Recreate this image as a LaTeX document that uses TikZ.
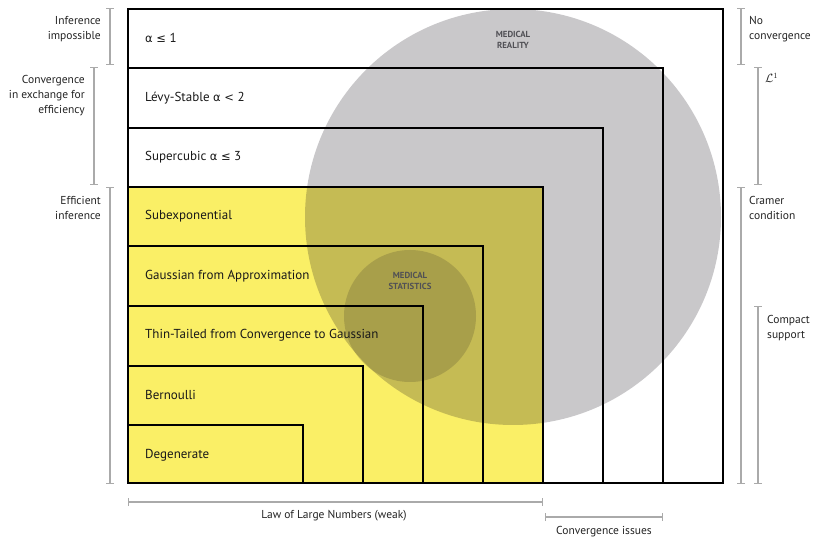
\documentclass[tikz,border=0pt]{standalone}
\usepackage{fontspec}
\setmainfont{PT Sans}
\newfontfamily\symfnt{DejaVu Sans}
\newcommand{\symf}[1]{{\symfnt\fontsize{11.5}{15}\selectfont #1}}
\usetikzlibrary{arrows.meta}
\definecolor{tyellow}{RGB}{250,239,102}
\definecolor{tshade}{RGB}{22,16,26}
\definecolor{bgrey}{RGB}{170,170,170}
\definecolor{ttext}{RGB}{25,25,25}
\definecolor{stext}{RGB}{35,35,35}
\definecolor{ctext}{RGB}{80,80,85}
\tikzset{
  boxline/.style={draw=black, line width=1.8pt, line join=miter},
  rowlabel/.style={anchor=west, inner sep=0pt, text=ttext, font=\fontsize{13}{15}\selectfont},
  sidelabelL/.style={anchor=east, align=right, inner sep=0pt, text=stext, font=\fontsize{11.5}{15}\selectfont},
  sidelabelR/.style={anchor=west, align=left, inner sep=0pt, text=stext, font=\fontsize{11.5}{15}\selectfont},
  bottomlabel/.style={inner sep=0pt, text=stext, font=\fontsize{11.5}{15}\selectfont},
  circlabel/.style={align=center, inner sep=0pt, text=ctext, font=\bfseries\fontsize{8.8}{11}\selectfont},
  brack/.style={draw=bgrey, line width=1.1pt, {Bar[width=8pt]}-{Bar[width=8pt]}},
}
\begin{document}
\begin{tikzpicture}[x=1pt,y=-1pt]
\useasboundingbox (0,0) rectangle (815,540);
% yellow region
\fill[tyellow] (128,187) rectangle (543,483);
% circles
\fill[tshade, opacity=0.23] (513,217) circle (208);
\fill[tshade, opacity=0.16] (410,316) circle (66);
% nested boxes
\foreach \r/\t in {723/9, 663/68, 603/128, 543/187, 483/246, 423/306, 363/366, 303/425}
  \draw[boxline] (128,483) rectangle (\r,\t);
% row labels
\node[rowlabel] (r1) at (145,38) {\symf{α ≤} 1};
\node[rowlabel] (r2) at (145,98) {Lévy-Stable \symf{α <} 2};
\node[rowlabel] (r3) at (145,157) {Supercubic \symf{α ≤} 3};
\node[rowlabel] (r4) at (145,216) {Subexponential};
\node[rowlabel] (r5) at (145,276) {Gaussian from Approximation};
\node[rowlabel] (r6) at (145,335) {Thin-Tailed from Convergence to Gaussian};
\node[rowlabel] (r7) at (145,395) {Bernoulli};
\node[rowlabel] (r8) at (145,455) {Degenerate};
% circle labels
\node[circlabel] (mr) at (513,40) {MEDICAL\\REALITY};
\node[circlabel] (ms) at (410,281) {MEDICAL\\STATISTICS};
% left brackets
\coordinate (l1a) at (110,8); \coordinate (l1b) at (110,65);
\coordinate (l2a) at (94,67); \coordinate (l2b) at (94,185);
\coordinate (l3a) at (110,187); \coordinate (l3b) at (110,484);
\draw[brack] (l1a) -- (l1b);
\draw[brack] (l2a) -- (l2b);
\draw[brack] (l3a) -- (l3b);
\node[sidelabelL] (t1) at (101,29) {Inference\\impossible};
\node[sidelabelL] (t2) at (85,96) {Convergence\\in exchange for\\efficiency};
\node[sidelabelL] (t3) at (101,208) {Efficient\\inference};
% right brackets
\coordinate (q1a) at (741,8); \coordinate (q1b) at (741,65);
\coordinate (q2a) at (758,67); \coordinate (q2b) at (758,185);
\coordinate (q3a) at (741,187); \coordinate (q3b) at (741,484);
\coordinate (q4a) at (758,306); \coordinate (q4b) at (758,484);
\draw[brack] (q1a) -- (q1b);
\draw[brack] (q2a) -- (q2b);
\draw[brack] (q3a) -- (q3b);
\draw[brack] (q4a) -- (q4b);
\node[sidelabelR] (u1) at (749,29) {No\\convergence};
\node[sidelabelR] (u2) at (765,78) {$\mathcal{L}^1$};
\node[sidelabelR] (u3) at (749,208) {Cramer\\condition};
\node[sidelabelR] (u4) at (767,328) {Compact\\support};
% bottom brackets
\coordinate (b1a) at (128,502); \coordinate (b1b) at (543,502);
\coordinate (b2a) at (545,517); \coordinate (b2b) at (663,517);
\draw[brack] (b1a) -- (b1b);
\draw[brack] (b2a) -- (b2b);
\node[bottomlabel] (w1) at (334,516) {Law of Large Numbers (weak)};
\node[bottomlabel] (w2) at (604,532) {Convergence issues};
\end{tikzpicture}
\end{document}
